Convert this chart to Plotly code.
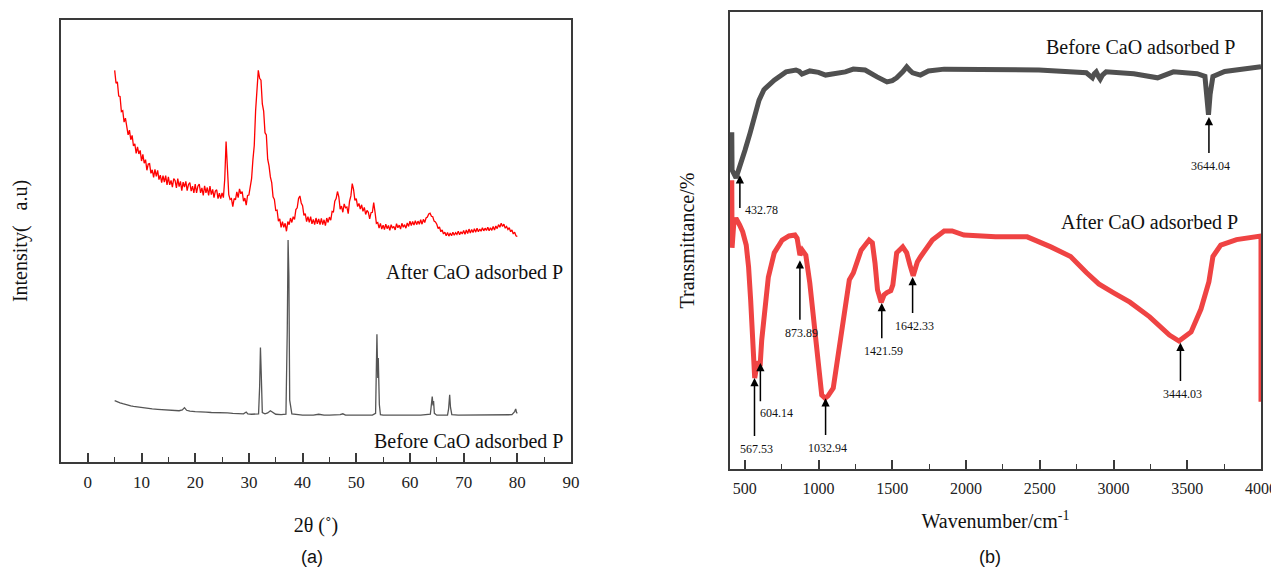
import numpy as np
import plotly.graph_objects as go
from plotly.subplots import make_subplots

# ------------------------------- XRD (panel a) ------------------------------- #
xrd_after_2theta = np.arange(5, 80.001, 0.25)
xrd_after_int = [
    886, 857, 860, 828, 827, 793, 795, 769, 778, 762, 740, 751, 729, 739, 715, 720, 698, 713, 697, 705,
    681, 696, 676, 684, 660, 674, 675, 653, 661, 644, 662, 646, 660, 639, 649, 632, 648, 633, 648, 627,
    645, 627, 637, 622, 641, 637, 620, 641, 623, 635, 614, 633, 622, 635, 614, 628, 632, 613, 624, 609,
    629, 609, 624, 629, 609, 620, 603, 625, 609, 621, 603, 624, 605, 617, 598, 613, 616, 596, 608, 596,
    609, 598, 640, 725, 660, 605, 594, 596, 578, 596, 593, 611, 598, 618, 607, 612, 590, 597, 581, 603,
    604, 628, 641, 684, 716, 795, 846, 886, 868, 864, 810, 794, 745, 740, 685, 670, 645, 632, 600, 594,
    569, 570, 545, 550, 531, 544, 531, 540, 522, 544, 537, 552, 542, 555, 549, 571, 575, 596, 602, 586,
    580, 558, 562, 544, 555, 542, 555, 539, 549, 537, 552, 539, 550, 537, 551, 537, 548, 535, 552, 542,
    554, 547, 567, 566, 590, 596, 612, 600, 572, 579, 565, 584, 575, 577, 562, 590, 602, 630, 616, 592,
    596, 578, 585, 572, 582, 567, 576, 560, 569, 565, 550, 564, 565, 587, 565, 540, 542, 529, 540, 527,
    536, 526, 538, 528, 535, 524, 537, 529, 533, 525, 539, 530, 536, 527, 540, 531, 537, 529, 541, 533,
    545, 535, 544, 536, 546, 537, 545, 538, 548, 538, 549, 542, 552, 554, 561, 563, 556, 555, 545, 543,
    538, 528, 532, 521, 525, 516, 520, 512, 519, 511, 518, 512, 520, 513, 519, 515, 522, 514, 521, 516,
    524, 515, 525, 517, 527, 518, 526, 519, 528, 520, 529, 521, 527, 522, 530, 523, 529, 524, 531, 523,
    530, 524, 533, 525, 534, 528, 537, 531, 540, 533, 538, 529, 533, 526, 530, 521, 525, 516, 520, 512,
    510,
]

xrd_before_2theta = [
    5, 5.5, 6, 6.5, 7, 7.5, 8, 8.5, 9, 9.5, 10, 11, 12, 13, 14, 15, 16, 17, 17.6, 18, 18.4, 19, 20,
    21, 22, 23, 24, 25, 26, 27, 28, 29, 29.5, 29.8, 30.5, 31, 31.8, 32.0, 32.15, 32.3, 32.5, 33, 33.5,
    34, 34.5, 35, 36, 36.9, 37.15, 37.3, 37.45, 37.6, 38, 39, 40, 41, 42, 43, 44, 45, 46, 47, 47.5,
    48, 49, 50, 51, 52, 53, 53.6, 53.85, 54.0, 54.1, 54.3, 54.5, 55, 56, 58, 60, 62, 63.8, 64.0,
    64.15, 64.3, 64.4, 64.55, 65, 66, 67, 67.2, 67.4, 67.55, 67.8, 69, 71, 73, 75, 77, 79, 79.5,
    79.7, 79.85, 80,
]
xrd_before_int = [
    139, 136, 134, 132, 130, 129, 127, 126, 125, 124, 123, 121, 120, 119, 118, 117, 117, 116, 118, 123,
    117, 115, 114, 114, 113, 112, 112, 111, 111, 110, 109, 109, 113, 109, 108, 108, 109, 170, 259, 200,
    112, 109, 111, 116, 111, 108, 107, 108, 300, 502, 420, 140, 109, 107, 106, 106, 106, 108, 106, 106,
    106, 107, 109, 106, 106, 106, 107, 106, 106, 110, 289, 190, 235, 130, 107, 106, 106, 106, 106, 106,
    108, 140, 148, 128, 138, 110, 106, 106, 106, 120, 152, 124, 107, 106, 106, 106, 106, 106, 107, 114,
    120, 112, 110,
]

# ------------------------------- FTIR (panel b) ------------------------------ #
ftir_before_wn = [
    412, 414, 441, 468, 502, 536, 569, 597, 630, 700, 780, 847, 870, 888, 941, 1000, 1048, 1120, 1182,
    1236, 1316, 1397, 1440, 1464, 1500, 1530, 1571, 1598, 1620, 1638, 1691, 1745, 1852, 2200, 2495,
    2816, 2840, 2857, 2870, 2883, 2900, 2910, 2925, 2950, 3138, 3299, 3406, 3567, 3620, 3635, 3644,
    3655, 3674, 3754, 3888, 4000,
]
ftir_before_t = [
    73.7, 65.4, 63.7, 66.1, 69.8, 73.5, 77.9, 80.7, 83.0, 85.1, 86.9, 87.3, 87.0, 86.4, 87.1, 86.8,
    86.2, 86.5, 86.9, 87.5, 87.3, 85.8, 84.9, 84.7, 85.0, 85.6, 86.9, 88.0, 87.2, 86.7, 86.2, 87.1,
    87.5, 87.5, 87.3, 86.7, 86.2, 85.6, 86.5, 86.9, 85.8, 85.3, 86.2, 86.9, 86.5, 85.6, 86.9, 86.5,
    85.9, 82.0, 77.5, 82.0, 85.9, 87.0, 87.5, 88.0,
]

ftir_after_wn = [
    412, 414, 425, 440, 465, 486, 510, 526, 540, 553, 560, 567.5, 585, 604, 615, 633, 660, 700, 754,
    800, 840, 855, 874, 890, 914, 941, 968, 995, 1022, 1045, 1065, 1100, 1129, 1169, 1209, 1236, 1289,
    1343, 1365, 1383, 1400, 1425, 1445, 1464, 1490, 1504, 1530, 1571, 1598, 1620, 1642, 1670, 1691,
    1772, 1852, 1906, 1986, 2200, 2415, 2575, 2709, 2816, 2900, 3004, 3111, 3245, 3379, 3444, 3526,
    3593, 3647, 3674, 3727, 3834, 3995, 4000, 4000,
]
ftir_after_t = [
    63.2, 48.4, 53.5, 54.9, 53.4, 51.9, 49.0, 44.2, 37.0, 30.4, 23.0, 19.9, 23.5, 22.5, 28.2, 34.1,
    42.0, 47.3, 50.1, 51.0, 51.2, 50.5, 46.8, 47.9, 46.8, 40.7, 32.6, 23.2, 16.2, 15.5, 16.0, 17.7,
    23.9, 33.3, 41.4, 42.9, 47.9, 50.1, 49.5, 45.1, 39.2, 36.5, 38.1, 38.6, 39.0, 40.3, 47.3, 48.6,
    47.3, 44.6, 42.3, 45.3, 46.4, 50.1, 52.1, 52.1, 51.2, 50.8, 50.8, 48.6, 46.5, 43.0, 40.5, 38.5,
    36.5, 33.3, 29.3, 28.0, 30.0, 35.0, 41.0, 46.5, 49.0, 50.2, 51.0, 51.0, 14.7,
]

# peak markers: arrow x, arrow tip, arrow tail
peak_labels = ["432.78", "567.53", "604.14", "873.89", "1032.94", "1421.59", "1642.33", "3444.03", "3644.04"]
peak_wn = [467, 566, 606, 874, 1048, 1429, 1638, 3454, 3647]
peak_tip = [64.3, 19.9, 23.2, 45.7, 15.5, 36.3, 42.0, 27.6, 77.0]
peak_tail = [56.7, 6.8, 14.4, 32.2, 7.0, 28.2, 33.7, 18.8, 68.7]
peak_label_side = ["right", "below", "below-right", "below", "below", "below", "below", "below", "below"]

# the page body adds an 8px margin, so the figure is drawn 8px smaller and offset
PAGE_W, PAGE_H, BODY = 1279, 572, 8
W, H = PAGE_W - BODY, PAGE_H - BODY
SERIF = "Liberation Serif"
AXIS_COLOR = "#3a3a3a"


def px_x(p):
    return (p - BODY) / W


def px_y(p):
    return 1 - (p - BODY) / H


fig = make_subplots(rows=1, cols=2)

fig.add_trace(
    go.Scatter(x=xrd_after_2theta, y=xrd_after_int, mode="lines", line=dict(color="#ff0000", width=1.3)),
    row=1, col=1,
)
fig.add_trace(
    go.Scatter(x=xrd_before_2theta, y=xrd_before_int, mode="lines", line=dict(color="#555555", width=1.3)),
    row=1, col=1,
)
fig.add_trace(
    go.Scatter(x=ftir_before_wn, y=ftir_before_t, mode="lines", line=dict(color="#505050", width=5)),
    row=1, col=2,
)
fig.add_trace(
    go.Scatter(x=ftir_after_wn, y=ftir_after_t, mode="lines", line=dict(color="#ef4343", width=5)),
    row=1, col=2,
)

axis_common = dict(
    showline=True, linecolor=AXIS_COLOR, linewidth=1.5, mirror=True, showgrid=False, zeroline=False,
    automargin=False,
)
x_common = dict(
    axis_common,
    ticks="inside", ticklen=9, tickwidth=1.5, tickcolor=AXIS_COLOR,
    ticklabelstandoff=4,
)

fig.update_xaxes(
    **x_common, domain=[px_x(61), px_x(571)], range=[-5, 90], tick0=0, dtick=10,
    tickfont=dict(family=SERIF, size=17, color="#222"),
    minor=dict(ticks="inside", ticklen=5, tickwidth=1.3, tickcolor=AXIS_COLOR, dtick=5),
    title=dict(text="2θ (˚)", font=dict(family=SERIF, size=20, color="#111"), standoff=27),
    row=1, col=1,
)
fig.update_yaxes(
    **axis_common, domain=[px_y(462), px_y(20)], range=[0, 1000], showticklabels=False, ticks="",
    title=dict(text="Intensity(\u00a0\u00a0\u00a0a.u)", font=dict(family=SERIF, size=20, color="#111"), standoff=26),
    row=1, col=1,
)
fig.update_xaxes(
    **x_common, domain=[px_x(730), px_x(1261)], range=[400, 4000], tick0=0, dtick=500,
    tickfont=dict(family=SERIF, size=16, color="#222"),
    minor=dict(ticks="inside", ticklen=5, tickwidth=1.3, tickcolor=AXIS_COLOR, dtick=250),
    title=dict(text="Wavenumber/cm<sup>-1</sup>", font=dict(family=SERIF, size=20, color="#111"), standoff=18),
    row=1, col=2,
)
fig.update_yaxes(
    **axis_common, domain=[px_y(469), px_y(12)], range=[0, 100], showticklabels=False, ticks="",
    title=dict(text="Transmittance/%", font=dict(family=SERIF, size=20, color="#111"), standoff=28),
    row=1, col=2,
)

annotations = []
# sample labels
for xref, yref, x, y, text in [
    ("x", "y", 88.9, 430, "After CaO adsorbed P"),
    ("x", "y", 88.9, 47, "Before CaO adsorbed P"),
    ("x2", "y2", 3840, 92.3, "Before CaO adsorbed P"),
    ("x2", "y2", 3860, 54.0, "After CaO adsorbed P"),
]:
    annotations.append(dict(
        xref=xref, yref=yref, x=x, y=y, text=text, showarrow=False, xanchor="right", yanchor="middle",
        font=dict(family=SERIF, size=20, color="#111"),
    ))

# peak arrows and labels
for lab, wn, tip, tail, side in zip(peak_labels, peak_wn, peak_tip, peak_tail, peak_label_side):
    annotations.append(dict(
        xref="x2", yref="y2", axref="x2", ayref="y2", x=wn, y=tip, ax=wn, ay=tail, text=" ",
        showarrow=True, arrowhead=2, arrowsize=1.1, arrowwidth=1.5, arrowcolor="#000",
        font=dict(size=1),
    ))
    if side == "right":
        pos = dict(x=wn, y=tail, xanchor="left", yanchor="middle", xshift=3)
    elif side == "below-right":
        pos = dict(x=wn, y=tail, xanchor="left", yanchor="top", xshift=-2, yshift=-1)
    else:
        pos = dict(x=wn, y=tail, xanchor="center", yanchor="top", xshift=2, yshift=-2)
    annotations.append(dict(
        xref="x2", yref="y2", text=lab, showarrow=False,
        font=dict(family=SERIF, size=12, color="#111"), **pos,
    ))

# panel letters
for x, text in [(312, "(a)"), (990, "(b)")]:
    annotations.append(dict(
        xref="paper", yref="paper", x=px_x(x), y=px_y(557), text=text, showarrow=False,
        xanchor="center", yanchor="middle", font=dict(family="Liberation Sans", size=18, color="#111"),
    ))

fig.update_layout(
    width=W, height=H, margin=dict(l=0, r=0, t=0, b=0),
    paper_bgcolor="white", plot_bgcolor="white", showlegend=False,
    annotations=annotations,
)

fig.write_html("out.html")
